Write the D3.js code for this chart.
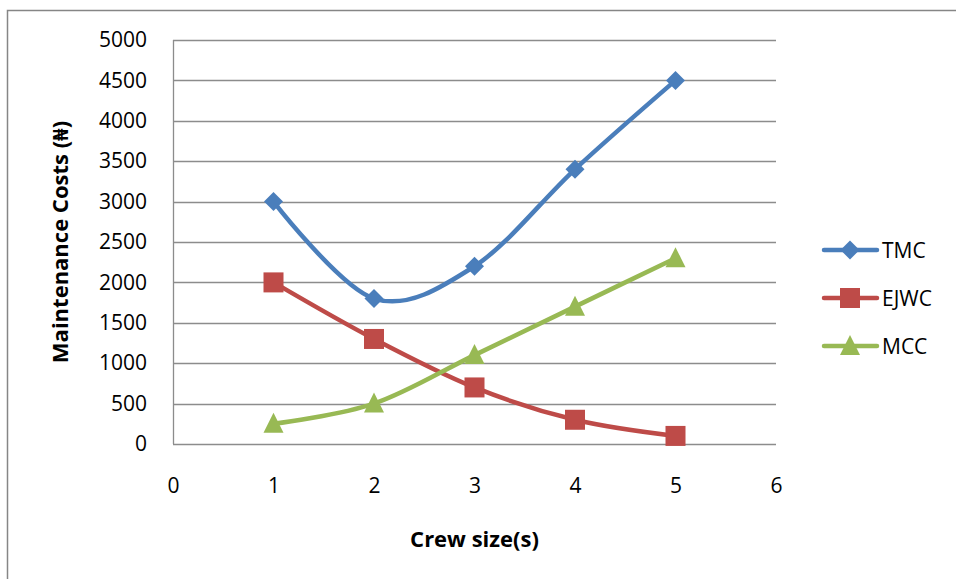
<!DOCTYPE html>
<html>
<head>
<meta charset="utf-8">
<script src="https://cdn.jsdelivr.net/npm/d3@7"></script>
<style>
  html, body { margin: 0; padding: 0; background: #fff; }
  svg { display: block; }
  text { font-family: "Open Sans", "Noto Sans", "Liberation Sans", sans-serif; fill: #000; }
</style>
</head>
<body>
<svg id="chart" width="956" height="579"></svg>
<script>
// Crew size on the x axis, maintenance cost series on y
const crewSizes = [1, 2, 3, 4, 5];
const tmc  = [3000, 1800, 2200, 3400, 4500];
const ejwc = [2000, 1300, 700, 300, 100];
const mcc  = [250, 500, 1100, 1700, 2300];
const xTicks = [0, 1, 2, 3, 4, 5, 6];
const yTicks = [0, 500, 1000, 1500, 2000, 2500, 3000, 3500, 4000, 4500, 5000];
const seriesNames = ["TMC", "EJWC", "MCC"];
const seriesColors = ["#4a7ebb", "#be4b48", "#98b954"];
const seriesShapes = ["diamond", "square", "triangle"];

const series = seriesNames.map((name, i) => ({
  name,
  color: seriesColors[i],
  shape: seriesShapes[i],
  values: [tmc, ejwc, mcc][i].map((v, j) => ({ x: crewSizes[j], y: v }))
}));

const svg = d3.select("#chart");
const plot = { left: 173, right: 776, top: 40, bottom: 444 };
const fontSize = "21px";

const x = d3.scaleLinear().domain([0, 6]).range([plot.left, plot.right]);
const y = d3.scaleLinear().domain([0, 5000]).range([plot.bottom, plot.top]);

// Outer chart frame (top and left edges visible)
svg.append("path")
  .attr("d", `M7.5,${579} L7.5,10.5 L956,10.5`)
  .attr("fill", "none").attr("stroke", "#868686").attr("stroke-width", 1.5);

// Horizontal gridlines
svg.append("g")
  .selectAll("line").data(yTicks).join("line")
  .attr("x1", plot.left).attr("x2", plot.right)
  .attr("y1", d => Math.round(y(d)) + 0.5).attr("y2", d => Math.round(y(d)) + 0.5)
  .attr("stroke", "#8c8c8c").attr("stroke-width", 1.3);

// Y axis line
svg.append("line")
  .attr("x1", plot.left + 0.5).attr("x2", plot.left + 0.5)
  .attr("y1", plot.top).attr("y2", plot.bottom)
  .attr("stroke", "#8c8c8c").attr("stroke-width", 1.3);

// Y axis tick labels
const yAxis = d3.axisLeft(y).tickValues(yTicks).tickFormat(d3.format("d")).tickSize(0).tickPadding(26);
const gy = svg.append("g").attr("transform", `translate(${plot.left},0)`).call(yAxis);
gy.select(".domain").remove();
gy.selectAll("text").style("font-size", fontSize).style("font-family", null);

// X axis tick labels
const xAxis = d3.axisBottom(x).tickValues(xTicks).tickFormat(d3.format("d")).tickSize(0).tickPadding(34);
const gx = svg.append("g").attr("transform", `translate(0,${plot.bottom})`).call(xAxis);
gx.select(".domain").remove();
gx.selectAll("text").style("font-size", fontSize).style("font-family", null);

// Axis titles
svg.append("text")
  .attr("x", (plot.left + plot.right) / 2).attr("y", 547)
  .attr("text-anchor", "middle")
  .style("font-size", "22px").style("font-weight", "bold")
  .text("Crew size(s)");

svg.append("text")
  .attr("transform", `translate(68,${(plot.top + plot.bottom) / 2}) rotate(-90)`)
  .attr("text-anchor", "middle")
  .style("font-size", "22px").style("font-weight", "bold")
  .text("Maintenance Costs (₦)");

// Series lines
const line = d3.line()
  .x(d => x(d.x)).y(d => y(d.y))
  .curve(d3.curveCatmullRom.alpha(0));

function marker(g, shape, color, cx, cy) {
  if (shape === "diamond") {
    g.append("path")
      .attr("d", `M${cx},${cy - 9.5} L${cx + 9.5},${cy} L${cx},${cy + 9.5} L${cx - 9.5},${cy} Z`)
      .attr("fill", color);
  } else if (shape === "square") {
    g.append("rect")
      .attr("x", cx - 10).attr("y", cy - 10).attr("width", 20).attr("height", 20)
      .attr("fill", color);
  } else {
    g.append("path")
      .attr("d", `M${cx},${cy - 11} L${cx + 10},${cy + 9} L${cx - 10},${cy + 9} Z`)
      .attr("fill", color);
  }
}

series.forEach(s => {
  const g = svg.append("g");
  g.append("path")
    .datum(s.values)
    .attr("d", line)
    .attr("fill", "none")
    .attr("stroke", s.color)
    .attr("stroke-width", 4.5)
    .attr("stroke-linejoin", "round");
  s.values.forEach(d => marker(g, s.shape, s.color, x(d.x), y(d.y)));
});

// Legend
const legend = svg.append("g");
series.forEach((s, i) => {
  const ly = 250 + i * 48;
  const g = legend.append("g");
  g.append("line")
    .attr("x1", 824).attr("x2", 877).attr("y1", ly).attr("y2", ly)
    .attr("stroke", s.color).attr("stroke-width", 4.5).attr("stroke-linecap", "round");
  marker(g, s.shape, s.color, 850, ly);
  g.append("text")
    .attr("x", 882).attr("y", ly).attr("dy", "0.36em")
    .style("font-size", fontSize)
    .text(s.name);
});
</script>
</body>
</html>
